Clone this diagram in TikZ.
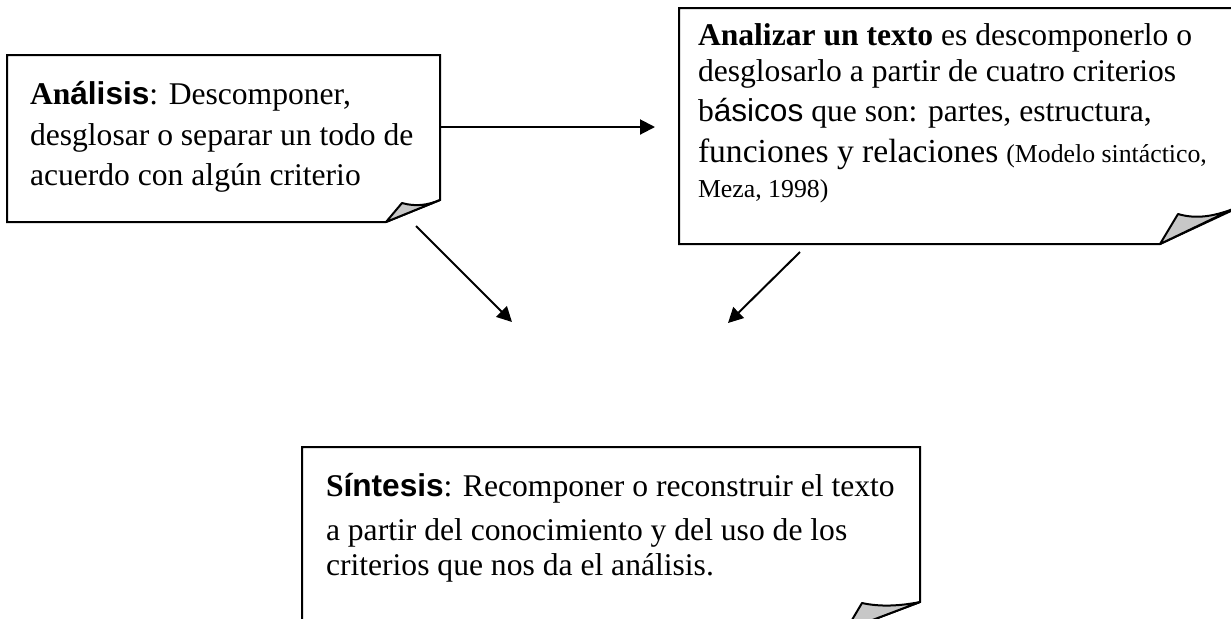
\documentclass[tikz,border=0pt]{standalone}
\usepackage{fontspec}
\setmainfont{Liberation Serif}
\newfontfamily\arialf{Liberation Sans}
\usetikzlibrary{arrows.meta}
\begin{document}
\begin{tikzpicture}[x=0.5pt,y=-0.5pt,
  every node/.style={inner sep=0pt, outer sep=0pt},
  ln/.style={anchor=base west, font=\fontsize{15.8}{18}\selectfont},
  boxline/.style={line width=1pt, line join=miter},
  flap/.style={fill=black!22, draw=black, line width=1pt, line join=round},
  conn/.style={line width=1pt, -{Triangle[length=7.5pt, width=7.5pt]}}]
\useasboundingbox (0,0) rectangle (1231,618);

% Box 1: Analisis
\draw[boxline] (440,200) -- (440,55) -- (7,55) -- (7,222) -- (386,222) -- cycle;
\filldraw[flap] (386,222) -- (402,203) .. controls (416,207) and (428,205) .. (440,200) -- cycle;
\node[ln] (a1) at (30,104) {\textbf{An{\arialf álisis}}: Descomponer,};
\node[ln] (a2) at (30,145) {desglosar o separar un todo de};
\node[ln] (a3) at (30,185) {acuerdo con algún criterio};

% Box 2: Analizar un texto
\draw[boxline] (1233,210) -- (1233,8) -- (679,8) -- (679,244) -- (1160,244) -- cycle;
\filldraw[flap] (1160,244) -- (1178,214) .. controls (1195,219) and (1212,217) .. (1233,209) -- cycle;
\node[ln] (b1) at (698,45) {\textbf{Analizar un texto} es descomponerlo o};
\node[ln] (b2) at (698,81) {desglosarlo a partir de cuatro criterios};
\node[ln] (b3) at (698,121) {b{\arialf ásicos} que son: partes, estructura,};
\node[ln] (b4) at (698,162) {{\fontsize{16.8}{18}\selectfont funciones y relaciones} {\fontsize{12.9}{15}\selectfont (Modelo sintáctico,}};
\node[ln] (b5) at (698,197) {\fontsize{12.9}{15}\selectfont Meza, 1998)};

% Box 3: Sintesis
\draw[boxline] (920,602) -- (920,447) -- (302,447) -- (302,630) -- (846,630) -- cycle;
\filldraw[flap] (846,630) -- (862,603) .. controls (880,607) and (900,606) .. (920,602) -- cycle;
\node[ln] (c1) at (326,496) {\textbf{S{\arialf íntesis}}: Recomponer o reconstruir el texto};
\node[ln] (c2) at (326,540) {a partir del conocimiento y del uso de los};
\node[ln] (c3) at (326,575) {criterios que nos da el análisis.};

% connectors
\coordinate (h1) at (440,127);
\coordinate (h2) at (655,127);
\coordinate (d1s) at (416,226);
\coordinate (d1e) at (512,322);
\coordinate (d2s) at (800,252);
\coordinate (d2e) at (728,323);
\draw[conn] (h1) -- (h2);
\draw[conn] (d1s) -- (d1e);
\draw[conn] (d2s) -- (d2e);
\end{tikzpicture}
\end{document}
